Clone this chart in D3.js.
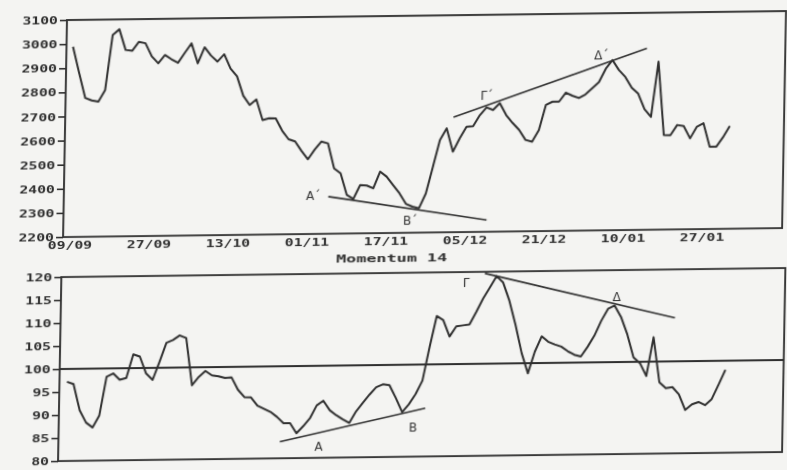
<!DOCTYPE html>
<html>
<head>
<meta charset="utf-8">
<script src="https://cdn.jsdelivr.net/npm/d3@7"></script>
<style>
  html, body { margin: 0; padding: 0; background: #f4f4f2; }
  svg { display: block; }
</style>
</head>
<body>
<svg id="chart" width="787" height="470"></svg>
<script>
// ---- data -------------------------------------------------------------
const dateLabels = ["09/09", "27/09", "13/10", "01/11", "17/11", "05/12", "21/12", "10/01", "27/01"];
const dateTickIndex = [0, 12, 24, 36, 48, 60, 72, 84, 96];

const priceTicks = [2200, 2300, 2400, 2500, 2600, 2700, 2800, 2900, 3000, 3100];
const momentumTicks = [80, 85, 90, 95, 100, 105, 110, 115, 120];

// daily closing level of the index
const price = [
  2989, 2880, 2776, 2765, 2760, 2808, 3036, 3059, 2973, 2969,
  3006, 3000, 2945, 2916, 2950, 2932, 2917, 2958, 2997, 2914,
  2980, 2945, 2920, 2950, 2890, 2858, 2777, 2738, 2761, 2675,
  2682, 2681, 2630, 2594, 2585, 2545, 2510, 2550, 2583, 2575,
  2471, 2450, 2360, 2343, 2400, 2398, 2386, 2455, 2434, 2399,
  2364, 2320, 2308, 2301, 2362, 2472, 2583, 2631, 2534, 2589,
  2637, 2639, 2684, 2716, 2705, 2733, 2683, 2650, 2621, 2579,
  2571, 2619, 2723, 2736, 2736, 2773, 2760, 2750, 2765, 2790,
  2815, 2870, 2906, 2864, 2835, 2790, 2765, 2700, 2668, 2897,
  2592, 2591, 2633, 2628, 2577, 2625, 2639, 2541, 2541, 2580,
  2626
];

// 14-day momentum (ratio x 100)
const momentum = [
  97.2, 96.7, 91.0, 88.3, 87.2, 89.8, 98.2, 98.9, 97.5, 97.9,
  103.0, 102.5, 98.8, 97.4, 101.3, 105.4, 106.0, 107.0, 106.4, 96.1,
  97.9, 99.2, 98.2, 98.0, 97.6, 97.7, 95.0, 93.4, 93.3, 91.5,
  90.8, 90.1, 89.0, 87.6, 87.6, 85.4, 86.9, 88.6, 91.4, 92.4,
  90.3, 89.2, 88.3, 87.5, 90.0, 91.8, 93.6, 95.2, 95.8, 95.6,
  92.8, 89.7, 91.4, 93.6, 96.5, 103.8, 110.5, 109.6, 106.0, 108.2,
  108.4, 108.6, 111.3, 114.2, 116.6, 119.0, 117.6, 113.6, 108.3, 102.2,
  97.8, 102.5, 105.8, 104.6, 104.0, 103.5, 102.5, 101.7, 101.3, 103.4,
  105.8, 109.0, 111.6, 112.3, 109.8, 106.0, 101.0, 99.7, 96.9, 105.3,
  95.5, 94.2, 94.4, 92.8, 89.4, 90.6, 91.1, 90.4, 91.7, 94.8,
  98.0
];
const momentumBase = 100;

// trend lines: [index, value] end points
const priceTrendLines = [
  [[39.2, 2354], [63.3, 2249]],
  [[58.0, 2677], [87.2, 2953]]
];
const momentumTrendLines = [
  [[32.5, 83.6], [54.5, 90.5]],
  [[63.2, 119.65], [92.2, 109.45]]
];

// point labels: [text, index, value]
const priceNotes = [["Α΄", 36.9, 2361], ["Β΄", 51.7, 2253], ["Γ΄", 63.0, 2767], ["Δ΄", 80.3, 2927]];
const momentumNotes = [["Α", 38.4, 82.4], ["Β", 52.7, 86.35], ["Γ", 60.4, 117.7], ["Δ", 83.3, 114.2]];

const momentumTitle = "Momentum 14";

// ---- drawing ------------------------------------------------------------
const ink = "#2f2f2f";
const svg = d3.select("#chart");

// slight softening of the printed strokes
const defs = svg.append("defs");
defs.append("filter").attr("id", "soft")
  .attr("x", "-2%").attr("y", "-2%").attr("width", "104%").attr("height", "104%")
  .append("feGaussianBlur").attr("stdDeviation", 0.35);

// the printed page sits slightly askew
const page = svg.append("g")
  .attr("filter", "url(#soft)")
  .attr("transform", "matrix(1,-0.0125,-0.018,1,4.32,0.81)");

const x = d3.scaleLinear().domain([0, 96]).range([69.5, 701.5]);

const topPanel = { left: 63, right: 782, top: 20, bottom: 237 };
const botPanel = { left: 62, right: 786, top: 277, bottom: 461 };

const yPrice = d3.scaleLinear().domain([2200, 3100]).range([topPanel.bottom, topPanel.top]);
const yMom = d3.scaleLinear().domain([80, 120]).range([botPanel.bottom, botPanel.top]);

const monoFont = "'DejaVu Sans Mono', monospace";

function stretchText(sel, perChar) {
  sel.each(function () {
    const t = d3.select(this);
    const n = t.text().length;
    t.attr("textLength", n * perChar).attr("lengthAdjust", "spacingAndGlyphs");
  });
}

function frame(p) {
  page.append("rect")
    .attr("x", p.left).attr("y", p.top)
    .attr("width", p.right - p.left).attr("height", p.bottom - p.top)
    .attr("fill", "none").attr("stroke", ink).attr("stroke-width", 1.8);
}

function leftAxis(scale, ticks, p) {
  const g = page.append("g")
    .attr("transform", `translate(${p.left},0)`)
    .call(d3.axisLeft(scale).tickValues(ticks).tickSize(7).tickPadding(2).tickFormat(d3.format("d")));
  g.select(".domain").remove();
  g.selectAll(".tick line").attr("stroke", ink).attr("stroke-width", 1.6);
  g.selectAll(".tick text")
    .attr("fill", ink)
    .attr("font-family", monoFont)
    .attr("font-weight", "bold")
    .attr("font-size", 10)
    .attr("dy", "0.36em")
    .call(stretchText, 8.9);
}

// price panel
frame(topPanel);
leftAxis(yPrice, priceTicks, topPanel);

const dateAxis = page.append("g")
  .attr("transform", `translate(0,${topPanel.bottom})`)
  .call(d3.axisBottom(x).tickValues(dateTickIndex).tickSize(0).tickPadding(5)
    .tickFormat((d, i) => dateLabels[i]));
dateAxis.select(".domain").remove();
dateAxis.selectAll(".tick text")
  .attr("fill", ink)
  .attr("font-family", monoFont)
  .attr("font-weight", "bold")
  .attr("font-size", 10)
  .call(stretchText, 8.9);

const priceLine = d3.line().x((d, i) => x(i)).y(d => yPrice(d));
page.append("path")
  .datum(price)
  .attr("d", priceLine)
  .attr("fill", "none").attr("stroke", ink).attr("stroke-width", 2)
  .attr("stroke-linejoin", "round");

page.selectAll(".price-trend")
  .data(priceTrendLines).join("line")
  .attr("x1", d => x(d[0][0])).attr("y1", d => yPrice(d[0][1]))
  .attr("x2", d => x(d[1][0])).attr("y2", d => yPrice(d[1][1]))
  .attr("stroke", ink).attr("stroke-width", 1.6);

page.selectAll(".price-note")
  .data(priceNotes).join("text")
  .attr("x", d => x(d[1])).attr("y", d => yPrice(d[2]))
  .attr("text-anchor", "middle").attr("dy", "0.36em")
  .attr("font-family", "'DejaVu Sans', sans-serif")
  .attr("font-size", 12).attr("fill", ink)
  .text(d => d[0]);

// momentum panel
page.append("text")
  .attr("x", 392).attr("y", 262).attr("dy", "0.36em")
  .attr("text-anchor", "middle")
  .attr("fill", ink)
  .attr("font-family", monoFont)
  .attr("font-weight", "bold")
  .attr("font-size", 10)
  .text(momentumTitle)
  .call(stretchText, 10.1);

frame(botPanel);
leftAxis(yMom, momentumTicks, botPanel);

page.append("line")
  .attr("x1", botPanel.left).attr("x2", botPanel.right)
  .attr("y1", yMom(momentumBase)).attr("y2", yMom(momentumBase))
  .attr("stroke", ink).attr("stroke-width", 1.8);

const momLine = d3.line().x((d, i) => x(i)).y(d => yMom(d));
page.append("path")
  .datum(momentum)
  .attr("d", momLine)
  .attr("fill", "none").attr("stroke", ink).attr("stroke-width", 2)
  .attr("stroke-linejoin", "round");

page.selectAll(".mom-trend")
  .data(momentumTrendLines).join("line")
  .attr("x1", d => x(d[0][0])).attr("y1", d => yMom(d[0][1]))
  .attr("x2", d => x(d[1][0])).attr("y2", d => yMom(d[1][1]))
  .attr("stroke", ink).attr("stroke-width", 1.6);

page.selectAll(".mom-note")
  .data(momentumNotes).join("text")
  .attr("x", d => x(d[1])).attr("y", d => yMom(d[2]))
  .attr("text-anchor", "middle").attr("dy", "0.36em")
  .attr("font-family", "'DejaVu Sans', sans-serif")
  .attr("font-size", 12).attr("fill", ink)
  .text(d => d[0]);
</script>
</body>
</html>
